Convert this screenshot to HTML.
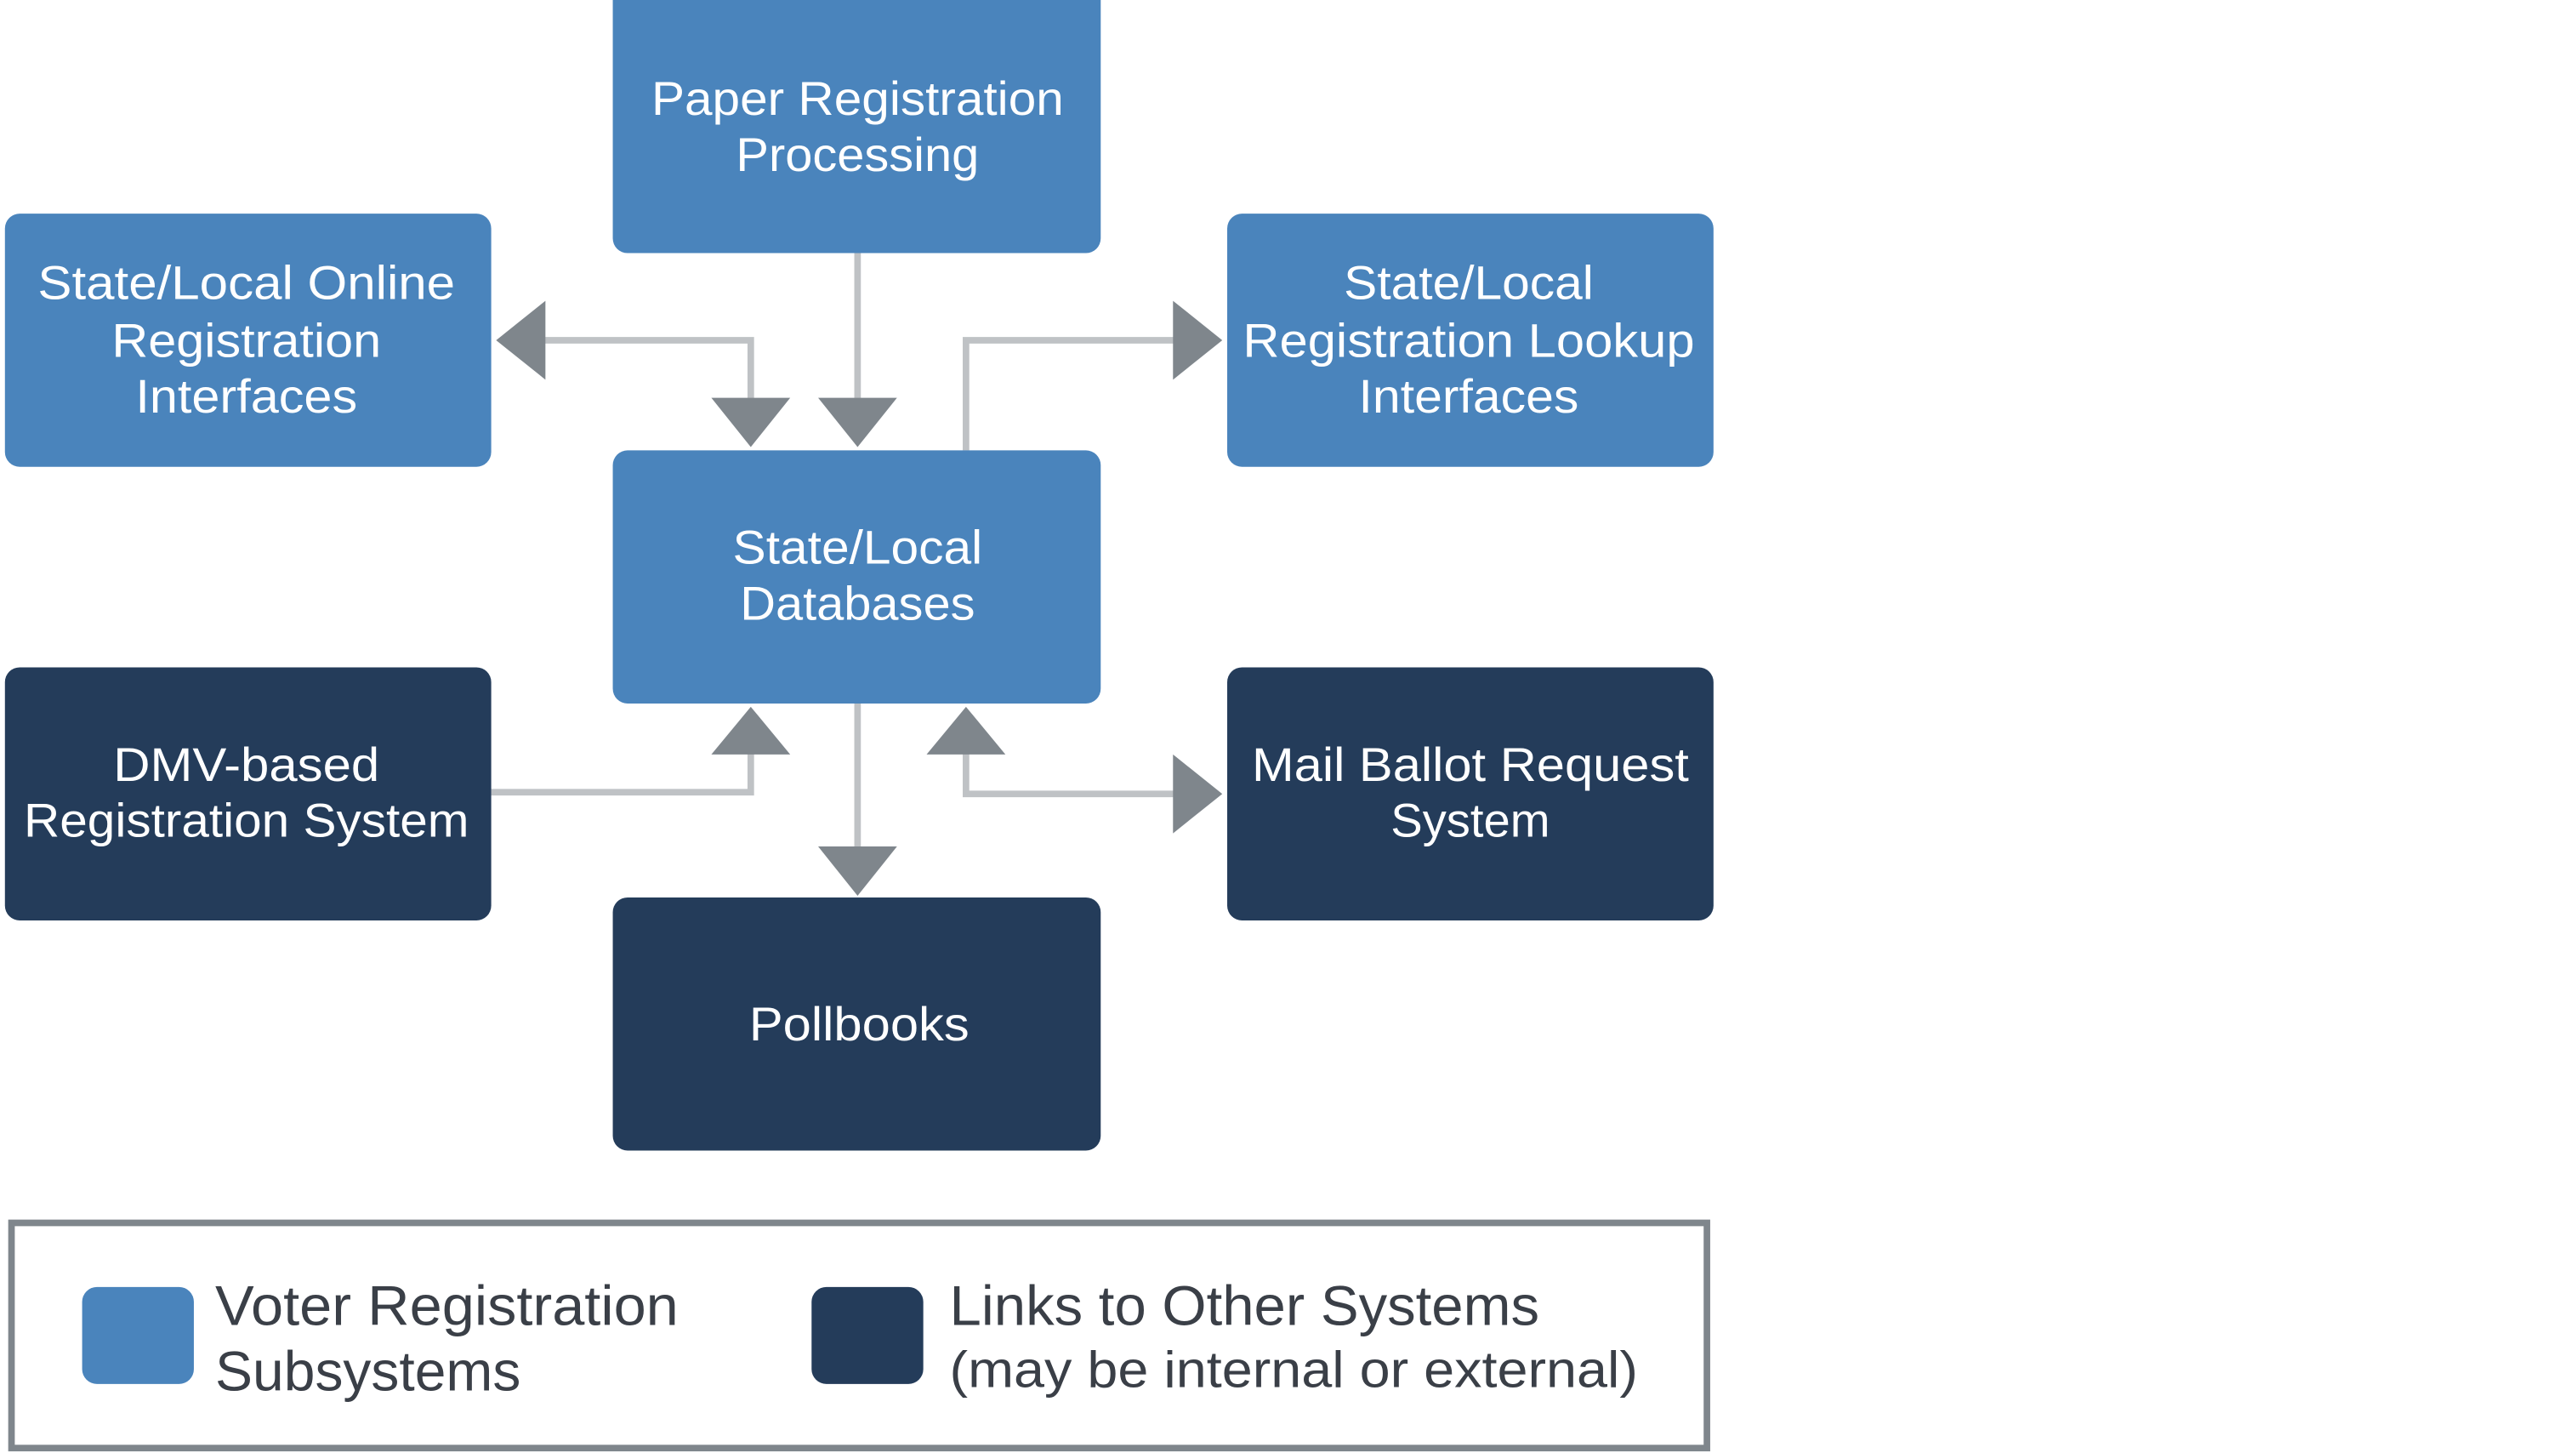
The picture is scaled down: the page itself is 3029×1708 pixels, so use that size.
<!DOCTYPE html>
<html><head><meta charset="utf-8"><style>
html,body{margin:0;padding:0;background:#fff;}
svg{display:block;}
text{font-family:"Liberation Sans",sans-serif;}
</style></head><body>
<svg width="3029" height="1708" viewBox="0 0 1568 884" preserveAspectRatio="none" xmlns="http://www.w3.org/2000/svg">
<rect width="1568" height="884" fill="#fff"/>
<!-- connectors -->
<g stroke="#bfc2c5" stroke-width="4" fill="none">
<polyline points="330,207 457,207 457,244"/>
<line x1="522" y1="154" x2="522" y2="244"/>
<polyline points="588,274 588,207 716,207"/>
<polyline points="299,482 457,482 457,457"/>
<polyline points="588,457 588,483 716,483"/>
<line x1="522" y1="428" x2="522" y2="517"/>
</g>
<g fill="#7f868c">
<polygon points="302,207 332,183 332,231"/>
<polygon points="433,242 481,242 457,272"/>
<polygon points="498,242 546,242 522,272"/>
<polygon points="744,207 714,183 714,231"/>
<polygon points="433,459 481,459 457,430"/>
<polygon points="564,459 612,459 588,430"/>
<polygon points="744,483 714,459 714,507"/>
<polygon points="498,515 546,515 522,545"/>
</g>
<!-- boxes -->
<g fill="#4a84bc">
<rect x="373" y="-10" width="297" height="164" rx="9"/>
<rect x="3" y="130" width="296" height="154" rx="9"/>
<rect x="747" y="130" width="296" height="154" rx="9"/>
<rect x="373" y="274" width="297" height="154" rx="9"/>
</g>
<g fill="#243c5a">
<rect x="3" y="406" width="296" height="154" rx="9"/>
<rect x="747" y="406" width="296" height="154" rx="9"/>
<rect x="373" y="546" width="297" height="154" rx="9"/>
</g>
<g fill="#fff" font-size="29" text-anchor="middle">
<text x="522" y="70" textLength="251" lengthAdjust="spacingAndGlyphs">Paper Registration</text>
<text x="522" y="104" textLength="148" lengthAdjust="spacingAndGlyphs">Processing</text>
<text x="150" y="182" textLength="254" lengthAdjust="spacingAndGlyphs">State/Local Online</text>
<text x="150" y="217" textLength="164" lengthAdjust="spacingAndGlyphs">Registration</text>
<text x="150" y="251" textLength="135" lengthAdjust="spacingAndGlyphs">Interfaces</text>
<text x="894" y="182" textLength="152" lengthAdjust="spacingAndGlyphs">State/Local</text>
<text x="894" y="217" textLength="275" lengthAdjust="spacingAndGlyphs">Registration Lookup</text>
<text x="894" y="251" textLength="134" lengthAdjust="spacingAndGlyphs">Interfaces</text>
<text x="522" y="343" textLength="152" lengthAdjust="spacingAndGlyphs">State/Local</text>
<text x="522" y="377" textLength="143" lengthAdjust="spacingAndGlyphs">Databases</text>
<text x="150" y="475" textLength="162" lengthAdjust="spacingAndGlyphs">DMV-based</text>
<text x="150" y="509" textLength="271" lengthAdjust="spacingAndGlyphs">Registration System</text>
<text x="895" y="475" textLength="266" lengthAdjust="spacingAndGlyphs">Mail Ballot Request</text>
<text x="895" y="509" textLength="97" lengthAdjust="spacingAndGlyphs">System</text>
<text x="523" y="633" textLength="134" lengthAdjust="spacingAndGlyphs">Pollbooks</text>
</g>
<!-- legend -->
<rect x="7" y="744" width="1032" height="137" fill="#fff" stroke="#7f868c" stroke-width="4"/>
<rect x="50" y="783" width="68" height="59" rx="9" fill="#4a84bc"/>
<rect x="494" y="783" width="68" height="59" rx="9" fill="#243c5a"/>
<g fill="#3a3f47" font-size="34">
<text x="131" y="806" textLength="282" lengthAdjust="spacingAndGlyphs">Voter Registration</text>
<text x="131" y="846" textLength="186" lengthAdjust="spacingAndGlyphs">Subsystems</text>
<text x="578" y="806" textLength="359" lengthAdjust="spacingAndGlyphs">Links to Other Systems</text>
<text x="578" y="844" font-size="31" textLength="419" lengthAdjust="spacingAndGlyphs">(may be internal or external)</text>
</g>
</svg>
</body></html>
